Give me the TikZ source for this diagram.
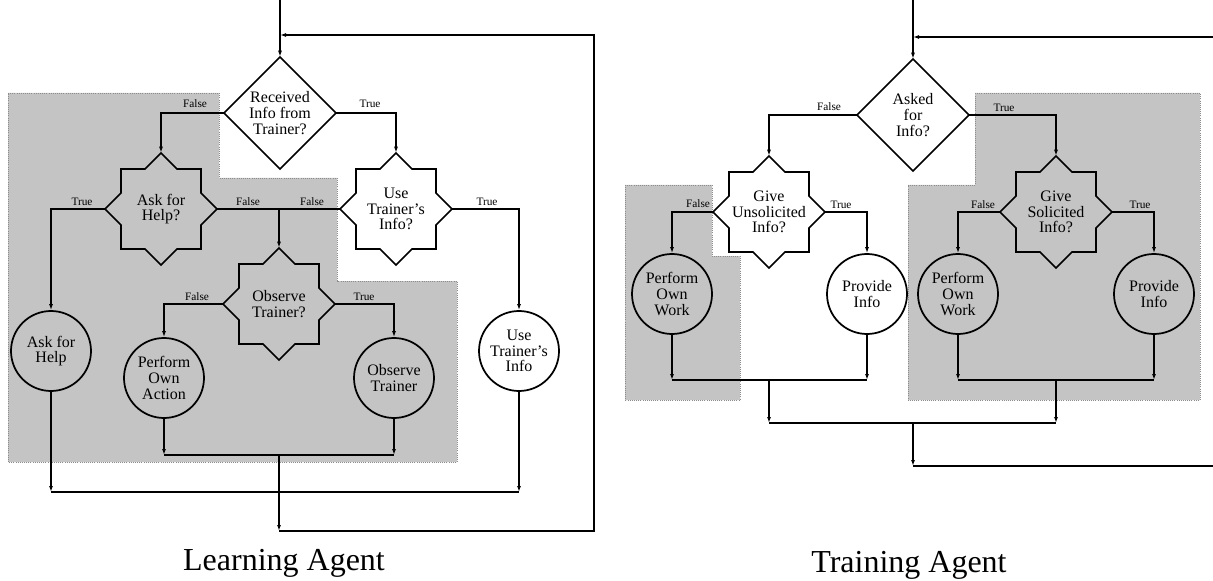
\documentclass[tikz,border=0pt]{standalone}
\usepackage{fontspec}
\setmainfont{Liberation Serif}
\usetikzlibrary{arrows.meta}

\pgfdeclarelayer{shade}
\pgfdeclarelayer{outline}
\pgfsetlayers{shade,outline,main}

\definecolor{halftone}{RGB}{196,196,196}
\newcommand\nodefont{\fontsize{12}{11.7}\selectfont}

\tikzset{
  flow/.style={line width=1.3pt},
  arr/.style={flow, -{Latex[length=4.5pt,width=3pt]}},
  testnode/.style={circle, minimum size=84pt, inner sep=0pt, font=\nodefont, align=center},
  actnode/.style={circle, draw, line width=1.3pt, minimum size=60pt, inner sep=0pt,
                  font=\nodefont, align=center},
  whiteact/.style={actnode, fill=white},
  lbl/.style={font=\fontsize{8.5}{9}\selectfont, anchor=base, inner sep=0pt},
  caption/.style={font=\fontsize{24}{28}\selectfont, anchor=base, inner sep=0pt},
  shadearea/.style={fill=halftone, draw=black!45, densely dotted, line width=0.6pt},
}

% eight-pointed decision outline around a test node
\newcommand\octagramat[2]{%
  \draw[flow, fill=#2, shift={(#1.center)}]
    (56,0) -- (40,16) -- (40,40) -- (16,40) -- (0,56) -- (-16,40) -- (-40,40)
    -- (-40,16) -- (-56,0) -- (-40,-16) -- (-40,-40) -- (-16,-40) -- (0,-56)
    -- (16,-40) -- (40,-40) -- (40,-16) -- cycle;}
% diamond outline around a test node
\newcommand\diamondat[1]{%
  \draw[flow, fill=white, shift={(#1.center)}]
    (56,0) -- (0,56) -- (-56,0) -- (0,-56) -- cycle;}

\begin{document}
\begin{tikzpicture}[x=0.75pt, y=-0.75pt]
\useasboundingbox (0,0) rectangle (1213,581);

% ---------------- Learning agent ----------------
\node[testnode] (recv) at (280,113) {Received\\Info from\\Trainer?};
\node[testnode] (askq) at (161,209) {Ask for\\Help?};
\node[testnode] (useq) at (396,209) {Use\\Trainer's\\Info?};
\node[testnode] (obsq) at (279,304) {Observe\\Trainer?};
\node[actnode]  (askc) at (51,351)  {Ask for\\Help};
\node[whiteact] (usec) at (519,351) {Use\\Trainer's\\Info};
\node[actnode]  (perfc) at (164,378) {Perform\\Own\\Action};
\node[actnode]  (obsc) at (394,378) {Observe\\Trainer};

\begin{pgfonlayer}{shade}
  \path[shadearea] (8,93) -- (219,93) -- (219,178) -- (337,178) -- (337,281)
    -- (457,281) -- (457,462) -- (8,462) -- cycle;
\end{pgfonlayer}
\begin{pgfonlayer}{outline}
  \diamondat{recv}
  \octagramat{askq}{none}
  \octagramat{useq}{white}
  \octagramat{obsq}{none}
\end{pgfonlayer}

\coordinate (top1) at (280,0);
\coordinate (in1) at (280,35);
\coordinate (r1) at (594,35);
\coordinate (split) at (279,209);
\coordinate (j1) at (279,455);
\coordinate (j2) at (279,492);
\coordinate (b1) at (279,531);

\draw[arr] (top1) -- (recv.north);
\draw[arr] (recv.west) -| (askq.north);
\draw[arr] (recv.east) -| (useq.north);
\draw[flow] (askq.east) -- (useq.west);
\draw[arr] (split) -- (obsq.north);
\draw[arr] (askq.west) -| (askc.north);
\draw[arr] (useq.east) -| (usec.north);
\draw[arr] (obsq.west) -| (perfc.north);
\draw[arr] (obsq.east) -| (obsc.north);

\draw[arr] (perfc.south) -- (perfc.south |- j1);
\draw[arr] (obsc.south) -- (obsc.south |- j1);
\draw[flow] (perfc.south |- j1) -- (obsc.south |- j1);
\draw[arr] (askc.south) -- (askc.south |- j2);
\draw[arr] (usec.south) -- (usec.south |- j2);
\draw[flow] (askc.south |- j2) -- (usec.south |- j2);
\draw[arr] (j1) -- (b1);
\draw[arr, line join=miter] (b1) -| (r1) -- (in1);

\node[lbl] (lRF) at (195,108) {False};
\node[lbl] (lRT) at (370,108) {True};
\node[lbl] (lAT) at (82,205)  {True};
\node[lbl] (lAF) at (248,205) {False};
\node[lbl] (lUF) at (312,205) {False};
\node[lbl] (lUT) at (487,205) {True};
\node[lbl] (lOF) at (197,300) {False};
\node[lbl] (lOT) at (364,300) {True};

\node[caption] (capL) at (284,570) {Learning Agent};

% ---------------- Training agent ----------------
\node[testnode] (askd) at (913,115)  {Asked\\for\\Info?};
\node[testnode] (unsq) at (769,212)  {Give\\Unsolicited\\Info?};
\node[testnode] (solq) at (1056,212) {Give\\Solicited\\Info?};
\node[actnode]  (ownL)  at (672,294)  {Perform\\Own\\Work};
\node[whiteact] (provL) at (867,294)  {Provide\\Info};
\node[actnode]  (ownR)  at (958,294)  {Perform\\Own\\Work};
\node[actnode]  (provR) at (1154,294) {Provide\\Info};

\begin{pgfonlayer}{shade}
  \path[shadearea] (625,185) -- (712,185) -- (712,256) -- (740,256) -- (740,400)
    -- (625,400) -- cycle;
  \path[shadearea] (975,93) -- (1200,93) -- (1200,400) -- (908,400) -- (908,185)
    -- (975,185) -- cycle;
\end{pgfonlayer}
\begin{pgfonlayer}{outline}
  \diamondat{askd}
  \octagramat{unsq}{white}
  \octagramat{solq}{none}
\end{pgfonlayer}

\coordinate (top2) at (913,0);
\coordinate (in2) at (913,37);
\coordinate (edgeT) at (1213,37);
\coordinate (tl) at (769,380);
\coordinate (tr) at (1056,380);
\coordinate (tm) at (913,423);
\coordinate (tb) at (913,466);
\coordinate (edgeB) at (1213,466);

\draw[arr] (top2) -- (askd.north);
\draw[arr] (edgeT) -- (in2);
\draw[arr] (askd.west) -| (unsq.north);
\draw[arr] (askd.east) -| (solq.north);
\draw[arr] (unsq.west) -| (ownL.north);
\draw[arr] (unsq.east) -| (provL.north);
\draw[arr] (solq.west) -| (ownR.north);
\draw[arr] (solq.east) -| (provR.north);

\draw[arr] (ownL.south) -- (ownL.south |- tl);
\draw[arr] (provL.south) -- (provL.south |- tl);
\draw[flow] (ownL.south |- tl) -- (provL.south |- tl);
\draw[arr] (ownR.south) -- (ownR.south |- tr);
\draw[arr] (provR.south) -- (provR.south |- tr);
\draw[flow] (ownR.south |- tr) -- (provR.south |- tr);
\draw[arr] (tl) -- (tl |- tm);
\draw[arr] (tr) -- (tr |- tm);
\draw[flow] (tl |- tm) -- (tr |- tm);
\draw[arr] (tm) -- (tb);
\draw[flow] (tb) -- (edgeB);

\node[lbl] (tAF) at (829,111)  {False};
\node[lbl] (tAT) at (1004,112) {True};
\node[lbl] (tUF) at (698,207)  {False};
\node[lbl] (tUT) at (841,208)  {True};
\node[lbl] (tSF) at (983,208)  {False};
\node[lbl] (tST) at (1140,208) {True};

\node[caption] (capR) at (909,572) {Training Agent};
\end{tikzpicture}
\end{document}
